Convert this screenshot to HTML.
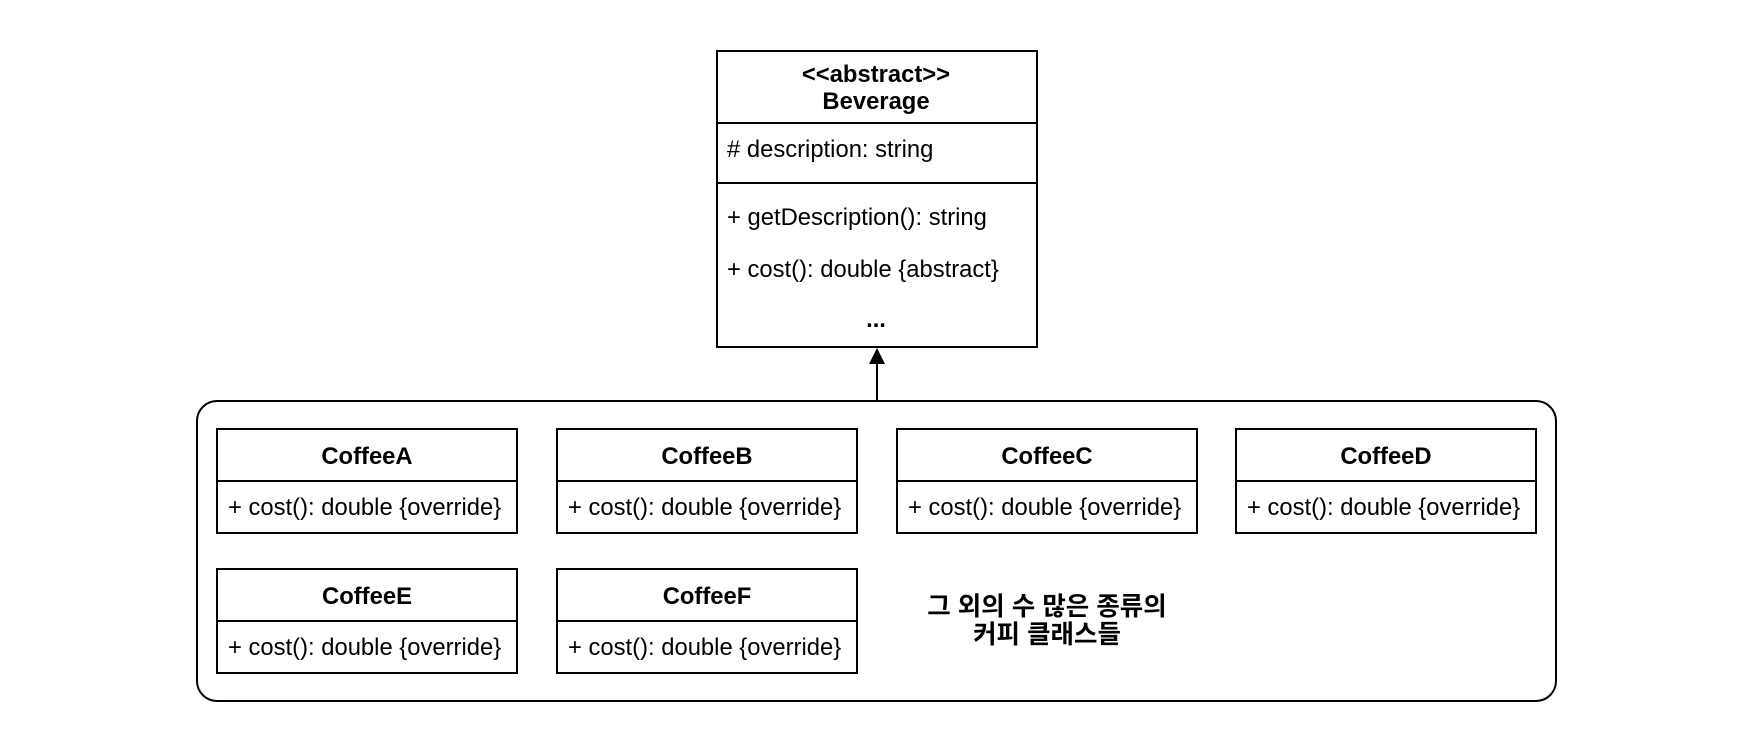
<!DOCTYPE html>
<html><head><meta charset="utf-8"><style>
html,body{margin:0;padding:0;background:#fff;}
svg{display:block;}
text{font-family:"Liberation Sans","Noto Sans CJK KR",sans-serif;fill:#000;}
.b{font-weight:bold;font-size:23.8px;}
.n{font-size:23.8px;}
.k{font-weight:bold;font-size:25.5px;}
</style></head><body>
<svg width="1754" height="752" viewBox="0 0 1754 752" xmlns="http://www.w3.org/2000/svg">
<rect width="1754" height="752" fill="#fff"/>
<rect x="717" y="51" width="320" height="296" fill="#fff" stroke="#000" stroke-width="2"/>
<line x1="717" y1="123" x2="1037" y2="123" stroke="#000" stroke-width="2"/>
<line x1="717" y1="183" x2="1037" y2="183" stroke="#000" stroke-width="2"/>
<text class="b" x="876" y="82" text-anchor="middle">&lt;&lt;abstract&gt;&gt;</text>
<text class="b" x="876" y="109" text-anchor="middle">Beverage</text>
<text class="n" x="727" y="157"># description: string</text>
<text class="n" x="727" y="225">+ getDescription(): string</text>
<text class="n" x="727" y="277">+ cost(): double {abstract}</text>
<text class="b" x="876" y="327" text-anchor="middle">...</text>
<line x1="877" y1="362" x2="877" y2="401" stroke="#000" stroke-width="2"/>
<polygon points="877,348 869,364 885,364" fill="#000"/>
<rect x="197" y="401" width="1359" height="300" rx="20" ry="20" fill="none" stroke="#000" stroke-width="2"/>
<g stroke="#000" stroke-width="2" fill="#fff">
<rect x="217" y="429" width="300" height="104"/><line x1="217" y1="481" x2="517" y2="481"/>
<rect x="557" y="429" width="300" height="104"/><line x1="557" y1="481" x2="857" y2="481"/>
<rect x="897" y="429" width="300" height="104"/><line x1="897" y1="481" x2="1197" y2="481"/>
<rect x="1236" y="429" width="300" height="104"/><line x1="1236" y1="481" x2="1536" y2="481"/>
<rect x="217" y="569" width="300" height="104"/><line x1="217" y1="621" x2="517" y2="621"/>
<rect x="557" y="569" width="300" height="104"/><line x1="557" y1="621" x2="857" y2="621"/>
</g>
<g text-anchor="middle">
<text class="b" x="367" y="464">CoffeeA</text>
<text class="b" x="707" y="464">CoffeeB</text>
<text class="b" x="1047" y="464">CoffeeC</text>
<text class="b" x="1386" y="464">CoffeeD</text>
<text class="b" x="367" y="604">CoffeeE</text>
<text class="b" x="707" y="604">CoffeeF</text>
<text class="k" x="1047" y="615">그 외의 수 많은 종류의</text>
<text class="k" x="1047" y="643">커피 클래스들</text>
</g>
<g>
<text class="n" x="228" y="515">+ cost(): double {override}</text>
<text class="n" x="568" y="515">+ cost(): double {override}</text>
<text class="n" x="908" y="515">+ cost(): double {override}</text>
<text class="n" x="1247" y="515">+ cost(): double {override}</text>
<text class="n" x="228" y="655">+ cost(): double {override}</text>
<text class="n" x="568" y="655">+ cost(): double {override}</text>
</g>
</svg>
</body></html>
